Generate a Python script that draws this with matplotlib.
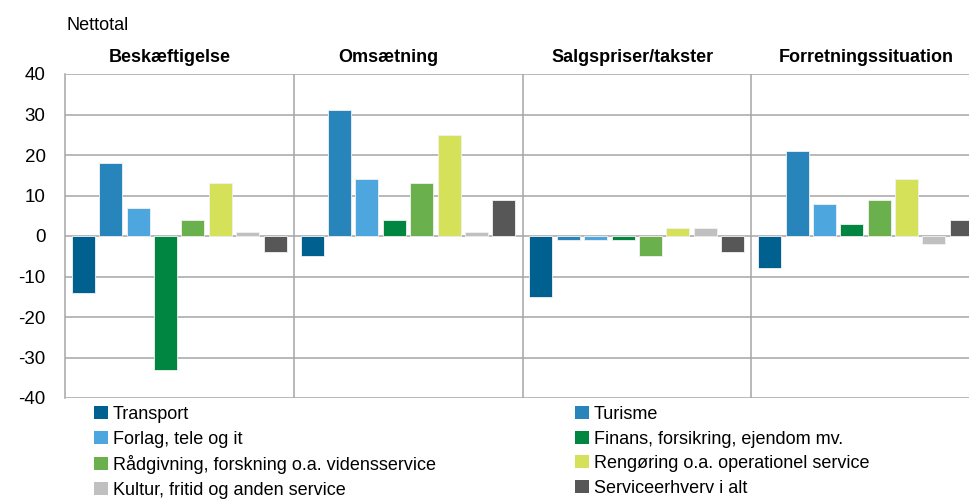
import matplotlib
matplotlib.use("Agg")
import matplotlib.pyplot as plt
import numpy as np
from matplotlib.patches import Patch

plt.rcParams['font.family'] = ['Liberation Sans', 'DejaVu Sans']

groups = ["Beskæftigelse", "Omsætning", "Salgspriser/takster", "Forretningssituation"]
series = ["Transport", "Turisme", "Forlag, tele og it", "Finans, forsikring, ejendom mv.",
          "Rådgivning, forskning o.a. vidensservice", "Rengøring o.a. operationel service",
          "Kultur, fritid og anden service", "Serviceerhverv i alt"]
colors = ["#00608f", "#2785bb", "#4da6dd", "#008641", "#6ab04d", "#d6e15a", "#c0c0c0", "#575757"]

transport = [-14, -5, -15, -8]
turisme = [18, 31, -1, 21]
forlag = [7, 14, -1, 8]
finans = [-33, 4, -1, 3]
raadgivning = [4, 13, -5, 9]
rengoering = [13, 25, 2, 14]
kultur = [1, 1, 2, -2]
total = [-4, 9, -4, 4]
values = [transport, turisme, forlag, finans, raadgivning, rengoering, kultur, total]

yticks = [-40, -30, -20, -10, 0, 10, 20, 30, 40]

W, H = 969, 499
fig = plt.figure(figsize=(W/100, H/100), dpi=100)
ax = fig.add_axes([65/W, (H-398)/H, (980-65)/W, (398-74)/H])

grid_c = "#a6a6a6"
for y in yticks:
    ax.axhline(y, color=grid_c, lw=1.1, zorder=1)
for xv in [1, 2, 3]:
    ax.axvline(xv, color=grid_c, lw=1.1, zorder=1)

step = 27.4/229
bw = 23/229
off = (72+11.5-65)/229
handles = []
for i, (name, vals, c) in enumerate(zip(series, values, colors)):
    x = np.arange(len(groups)) + off + i*step
    ax.bar(x, vals, width=bw, color=c, edgecolor="#f2f2f2", linewidth=0.6, zorder=3)
    handles.append(Patch(facecolor=c, edgecolor='none', label=name))

ax.set_xlim(0, 4)
ax.set_ylim(-40, 40)
ax.set_yticks(yticks)
ax.set_yticklabels([str(v) for v in yticks], fontsize=13.5)
ax.set_xticks([])
ax.tick_params(axis='y', length=0, pad=14)
for s in ['top', 'right', 'bottom']:
    ax.spines[s].set_visible(False)
ax.spines['left'].set_color(grid_c)
ax.spines['left'].set_linewidth(1.1)

title_x = [170, 388, 633, 866]
for t, xp in zip(groups, title_x):
    fig.text(xp/W, 1-57/H, t, ha='center', va='center', fontsize=13, fontweight='bold')

fig.text(66/W, 1-25/H, "Nettotal", ha='left', va='center', fontsize=13)

left_h = [handles[0], handles[2], handles[4], handles[6]]
right_h = [handles[1], handles[3], handles[5], handles[7]]
common = dict(loc='upper left', frameon=False, fontsize=13, handlelength=0.75, handleheight=0.75,
              handletextpad=0.3, labelspacing=0.42, borderpad=0, borderaxespad=0)
fig.legend(handles=left_h, bbox_to_anchor=(94/W, 1-406/H), **common)
fig.legend(handles=right_h, bbox_to_anchor=(575/W, 1-406/H), **common)

fig.savefig("out.png", dpi=100)
